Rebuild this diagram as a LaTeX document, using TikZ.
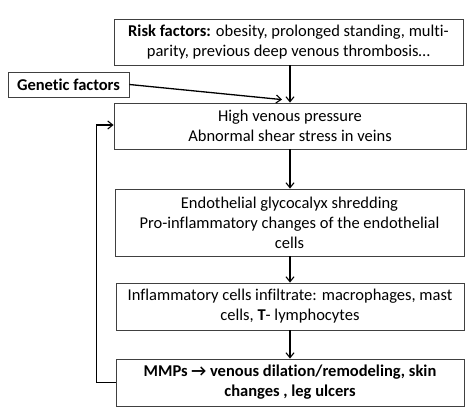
\documentclass[tikz,border=0pt]{standalone}
\usepackage{fontspec}
\setmainfont[Ligatures=NoCommon]{Carlito}
\usetikzlibrary{arrows.meta}
\begin{document}
\begin{tikzpicture}[x=1pt,y=1pt,
  box/.style={draw=black!75, line width=0.8pt, align=center, inner sep=2pt, font=\fontsize{16.5}{20}\selectfont},
  arr/.style={line width=1.3pt, -{Straight Barb[length=5pt,width=8pt,line width=1.1pt]}}]
\useasboundingbox (0,0) rectangle (474,407);
\node[box, minimum width=349, minimum height=46] (risk) at (288.5,365) {\textbf{Risk factors:} obesity, prolonged standing, multi-\\parity, previous deep venous thrombosis…};
\node[box, minimum width=121, minimum height=25] (gen) at (68.5,322.5) {\textbf{Genetic factors}};
\node[box, minimum width=352, minimum height=46] (high) at (290,281) {High venous pressure\\Abnormal shear stress in veins};
\node[box, minimum width=349, minimum height=67] (endo) at (289.5,184.5) {Endothelial glycocalyx shredding\\Pro-inflammatory changes of the endothelial\\cells};
\node[box, minimum width=348, minimum height=47] (infl) at (290,100.5) {Inflammatory cells infiltrate: macrophages, mast\\cells, \textbf{T}- lymphocytes};
\node[box, minimum width=348, minimum height=47] (mmp) at (290,24.5) {\textbf{MMPs → venous dilation/remodeling, skin}\\\textbf{changes , leg ulcers}};
\draw[arr] (high.north |- risk.south) -- (high.north);
\draw[arr] (gen.east) -- ([xshift=-8pt,yshift=3pt]high.north);
\draw[arr] (high.south) -- (high.south |- endo.north);
\draw[arr] (high.south |- endo.south) -- (high.south |- infl.north);
\draw[arr] (infl.south) -- (mmp.north);
\draw[arr] (mmp.west) -- ++(-19,0) |- ([yshift=1pt]high.west);
\end{tikzpicture}
\end{document}
